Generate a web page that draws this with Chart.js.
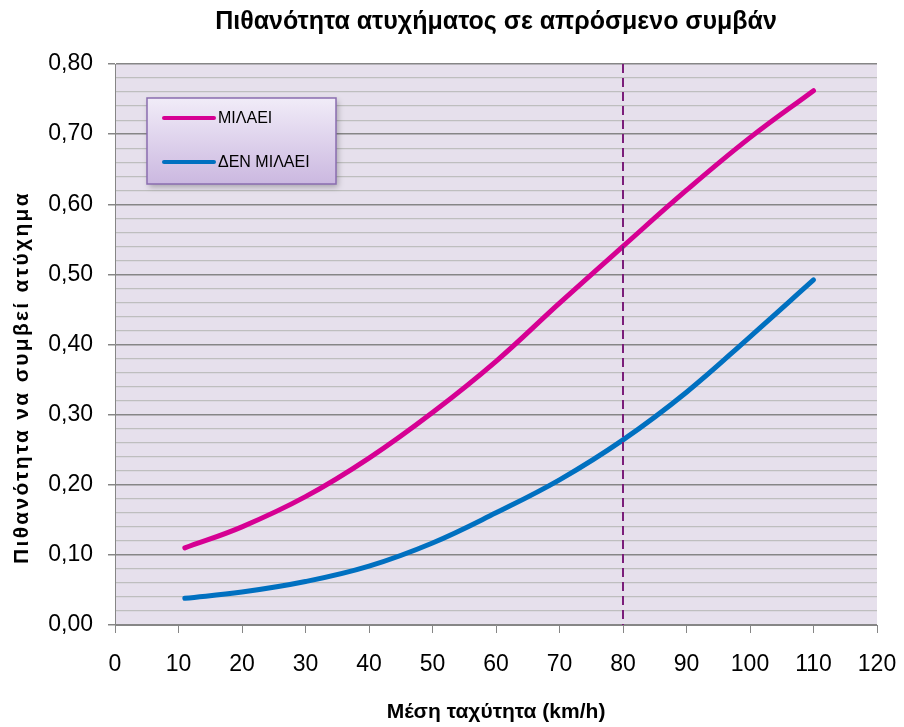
<!DOCTYPE html>
<html>
<head>
<meta charset="utf-8">
<title>Πιθανότητα ατυχήματος</title>
<script src="https://cdn.jsdelivr.net/npm/chart.js@4"></script>
<style>
    html, body { margin: 0; padding: 0; background: #ffffff; }
    #wrap { width: 904px; height: 727px; }
</style>
</head>
<body>
<div id="wrap"><canvas id="chart" width="904" height="727"></canvas></div>
<script>
// Data
const speeds = [11, 20, 30, 40, 50, 60, 70, 80, 90, 100, 110];
const talking = [0.110, 0.140, 0.183, 0.238, 0.303, 0.376, 0.459, 0.540, 0.620, 0.695, 0.762];
const notTalking = [0.038, 0.047, 0.062, 0.084, 0.117, 0.160, 0.207, 0.264, 0.332, 0.411, 0.492];
const seriesLabels = ['ΜΙΛΑΕΙ', 'ΔΕΝ ΜΙΛΑΕΙ'];
const markerSpeed = [80];
const yTitle = 'Πιθανότητα να συμβεί ατύχημα';

const PINK = '#D60093';
const BLUE = '#0070C0';
const MAJOR_GRID = '#868686';
const MINOR_GRID = '#BEBEBE';
const FONT = "'Liberation Sans', Arial, sans-serif";

Chart.defaults.font.family = FONT;
Chart.defaults.color = '#000000';

function toPoints(values) {
    return speeds.map((s, i) => ({ x: s, y: values[i] }));
}

function isMajor(v) {
    return Math.round(v * 100) % 10 === 0;
}

// Lavender plot background
const plotBackground = {
    id: 'plotBackground',
    beforeDraw(chart) {
        const { ctx, chartArea: a } = chart;
        ctx.save();
        ctx.fillStyle = '#E6E0EC';
        ctx.fillRect(a.left, a.top, a.right - a.left, a.bottom - a.top);
        ctx.restore();
    }
};

// Vertical dashed marker at 80 km/h
const speedMarker = {
    id: 'speedMarker',
    afterDatasetsDraw(chart) {
        const { ctx, chartArea: a, scales } = chart;
        ctx.save();
        ctx.strokeStyle = '#7B1E7A';
        ctx.lineWidth = 2;
        ctx.setLineDash([9, 5]);
        markerSpeed.forEach(v => {
            const x = Math.round(scales.x.getPixelForValue(v));
            ctx.beginPath();
            ctx.moveTo(x, a.top);
            ctx.lineTo(x, a.bottom);
            ctx.stroke();
        });
        ctx.restore();
    }
};

// Letter-spaced rotated y axis title
const spacedYTitle = {
    id: 'spacedYTitle',
    afterDraw(chart) {
        const { ctx, chartArea: a } = chart;
        ctx.save();
        ctx.translate(22, (a.top + a.bottom) / 2 + 33);
        ctx.rotate(-Math.PI / 2);
        ctx.font = 'bold 21px ' + FONT;
        ctx.letterSpacing = '2.3px';
        ctx.fillStyle = '#000000';
        ctx.textAlign = 'center';
        ctx.textBaseline = 'middle';
        ctx.fillText(yTitle, 0, 0);
        ctx.restore();
    }
};

// Boxed legend in the upper left of the plot
const boxLegend = {
    id: 'boxLegend',
    afterDraw(chart) {
        const { ctx, chartArea: a } = chart;
        const left = a.left + 32, top = a.top + 34, w = 189, h = 86;
        ctx.save();
        ctx.shadowColor = 'rgba(0,0,0,0.28)';
        ctx.shadowBlur = 6;
        ctx.shadowOffsetX = 2;
        ctx.shadowOffsetY = 3;
        const g = ctx.createLinearGradient(0, top, 0, top + h);
        g.addColorStop(0, '#F1ECF8');
        g.addColorStop(1, '#CBB8E0');
        ctx.fillStyle = g;
        ctx.fillRect(left, top, w, h);
        ctx.shadowColor = 'transparent';
        ctx.strokeStyle = '#8A6DB0';
        ctx.lineWidth = 1.5;
        ctx.strokeRect(left, top, w, h);

        ctx.font = '16px ' + FONT;
        ctx.textBaseline = 'middle';
        ctx.lineCap = 'round';
        chart.data.datasets.forEach((ds, i) => {
            const y = top + 20 + i * 44;
            ctx.strokeStyle = ds.borderColor;
            ctx.lineWidth = 4;
            ctx.beginPath();
            ctx.moveTo(left + 17, y);
            ctx.lineTo(left + 67, y);
            ctx.stroke();
            ctx.fillStyle = '#000000';
            ctx.fillText(ds.label, left + 71, y + 1);
        });
        ctx.restore();
    }
};

new Chart(document.getElementById('chart'), {
    type: 'line',
    data: {
        datasets: [
            {
                label: seriesLabels[0],
                data: toPoints(talking),
                borderColor: PINK,
                borderWidth: 5,
                borderCapStyle: 'round',
                tension: 0.4,
                pointRadius: 0
            },
            {
                label: seriesLabels[1],
                data: toPoints(notTalking),
                borderColor: BLUE,
                borderWidth: 5,
                borderCapStyle: 'round',
                tension: 0.4,
                pointRadius: 0
            }
        ]
    },
    options: {
        responsive: false,
        animation: false,
        layout: { padding: { left: 0, right: 27, top: 0, bottom: 0 } },
        plugins: {
            legend: { display: false },
            tooltip: { enabled: false },
            title: {
                display: true,
                fullSize: false,
                text: 'Πιθανότητα ατυχήματος σε απρόσμενο συμβάν',
                font: { size: 25, weight: 'bold' },
                color: '#000000',
                padding: { top: 7, bottom: 27 }
            }
        },
        scales: {
            x: {
                type: 'linear',
                min: 0,
                max: 120,
                afterFit: s => { s.height = 102; s.paddingLeft = 0; s.paddingRight = 0; },
                ticks: { stepSize: 10, font: { size: 23 }, padding: 18, color: '#000000' },
                grid: { drawOnChartArea: false, tickLength: 8, color: MAJOR_GRID },
                border: { color: MAJOR_GRID, width: 1 },
                title: {
                    display: true,
                    text: 'Μέση ταχύτητα (km/h)',
                    font: { size: 21, weight: 'bold' },
                    padding: { top: 0, bottom: 2 }
                }
            },
            y: {
                min: 0,
                max: 0.8,
                afterFit: s => { s.width = 115; },
                ticks: {
                    stepSize: 0.02,
                    autoSkip: false,
                    font: { size: 23 },
                    padding: 15,
                    color: '#000000',
                    callback: v => isMajor(v) ? v.toFixed(2).replace('.', ',') : ''
                },
                grid: {
                    tickLength: 7,
                    color: c => isMajor(c.tick.value) ? MAJOR_GRID : MINOR_GRID,
                    tickColor: c => isMajor(c.tick.value) ? MAJOR_GRID : 'rgba(0,0,0,0)',
                    lineWidth: c => isMajor(c.tick.value) ? 1.5 : 1.2
                },
                border: { color: MAJOR_GRID, width: 1 }
            }
        }
    },
    plugins: [plotBackground, speedMarker, spacedYTitle, boxLegend]
});
</script>
</body>
</html>
